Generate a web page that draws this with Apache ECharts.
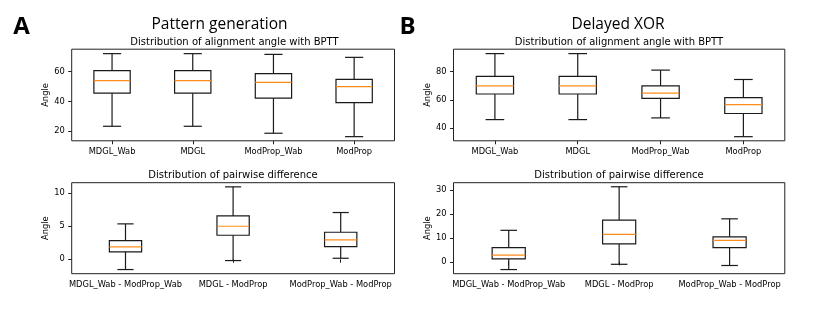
<!DOCTYPE html>
<html>
<head>
<meta charset="utf-8">
<script src="https://cdn.jsdelivr.net/npm/echarts@6/dist/echarts.min.js"></script>
<style>
html,body{margin:0;padding:0;background:#fff;}
#chart{width:823px;height:316px;}
</style>
</head>
<body>
<div id="chart"></div>
<script>
// ---- Data ----
const angleCategories = ['MDGL_Wab', 'MDGL', 'ModProp_Wab', 'ModProp'];
const diffCategories = ['MDGL_Wab - ModProp_Wab', 'MDGL - ModProp', 'ModProp_Wab - ModProp'];

// Pattern generation: alignment angle
const patAngleLow  = [23.2, 23.2, 18.5, 16.2];
const patAngleQ1   = [45.5, 45.5, 42.2, 39.1];
const patAngleMed  = [54.0, 54.0, 52.8, 49.9];
const patAngleQ3   = [60.7, 60.7, 58.7, 54.8];
const patAngleHigh = [72.2, 72.2, 71.7, 69.7];

// Delayed XOR: alignment angle
const xorAngleLow  = [46.1, 46.1, 47.3, 34.1];
const xorAngleQ1   = [64.1, 64.1, 61.0, 50.4];
const xorAngleMed  = [69.8, 69.8, 64.7, 56.7];
const xorAngleQ3   = [76.5, 76.5, 69.8, 61.6];
const xorAngleHigh = [92.5, 92.5, 80.9, 74.3];

// Pattern generation: pairwise difference
const patDiffLow  = [-1.56, -0.2, 0.15];
const patDiffQ1   = [1.12, 3.64, 1.92];
const patDiffMed  = [1.88, 5.0, 2.94];
const patDiffQ3   = [2.83, 6.57, 4.09];
const patDiffHigh = [5.36, 10.97, 7.08];

// Delayed XOR: pairwise difference
const xorDiffLow  = [-3.2, -1.0, -1.5];
const xorDiffQ1   = [1.25, 7.5, 6.0];
const xorDiffMed  = [2.8, 11.5, 9.0];
const xorDiffQ3   = [6.0, 17.5, 10.5];
const xorDiffHigh = [13.2, 31.4, 18.0];

// Tick labels
const patAngleTicks = [20, 40, 60];
const xorAngleTicks = [40, 60, 80];
const patDiffTicks = [0, 5, 10];
const xorDiffTicks = [0, 10, 20, 30];

// ---- Chart ----
const chart = echarts.init(document.getElementById('chart'), null, {renderer: 'canvas'});

function build(cats, low, q1, med, q3, high) {
  return cats.map((c, i) => [i, low[i], q1[i], med[i], q3[i], high[i]]);
}

function makeRender(frac) {
  return function (params, api) {
    const x = api.value(0);
    const pLow = api.coord([x, api.value(1)]);
    const pQ1 = api.coord([x, api.value(2)]);
    const pMed = api.coord([x, api.value(3)]);
    const pQ3 = api.coord([x, api.value(4)]);
    const pHigh = api.coord([x, api.value(5)]);
    const band = api.size([1, 0])[0];
    const bw = band * frac;
    const cx = pMed[0];
    const stroke = {stroke: '#1a1a1a', lineWidth: 1.2, fill: null};
    return {
      type: 'group',
      children: [
        {type: 'line', shape: {x1: cx, y1: pQ3[1], x2: cx, y2: pHigh[1]}, style: stroke},
        {type: 'line', shape: {x1: cx, y1: pQ1[1], x2: cx, y2: pLow[1]}, style: stroke},
        {type: 'line', shape: {x1: cx - bw / 4, y1: pHigh[1], x2: cx + bw / 4, y2: pHigh[1]}, style: stroke},
        {type: 'line', shape: {x1: cx - bw / 4, y1: pLow[1], x2: cx + bw / 4, y2: pLow[1]}, style: stroke},
        {type: 'rect', shape: {x: cx - bw / 2, y: pQ3[1], width: bw, height: pQ1[1] - pQ3[1]},
          style: {stroke: '#1a1a1a', lineWidth: 1.2, fill: 'rgba(0,0,0,0)'}},
        {type: 'line', shape: {x1: cx - bw / 2, y1: pMed[1], x2: cx + bw / 2, y2: pMed[1]},
          style: {stroke: '#ff8c1a', lineWidth: 1.2}}
      ]
    };
  };
}

const tickFont = {fontFamily: 'DejaVu Sans', fontSize: 8.3, color: '#000'};

function xAxis(idx, cats) {
  return {
    type: 'category', gridIndex: idx, data: cats, boundaryGap: true,
    axisLine: {show: false},
    axisTick: {show: true, alignWithLabel: true, length: 3.5, inside: false, lineStyle: {color: '#222', width: 1}},
    axisLabel: Object.assign({margin: 7, interval: 0}, tickFont),
    splitLine: {show: false}
  };
}
function yAxis(idx, min, max, ticks) {
  return {
    type: 'value', gridIndex: idx, min: min, max: max,
    name: 'Angle', nameLocation: 'middle', nameGap: 17.5, nameRotate: 90,
    nameTextStyle: {fontFamily: 'DejaVu Sans', fontSize: 8.3, color: '#000'},
    axisLine: {show: false},
    axisTick: {show: true, length: 3.5, customValues: ticks, lineStyle: {color: '#222', width: 1}},
    axisLabel: Object.assign({margin: 7, customValues: ticks}, tickFont),
    splitLine: {show: false}
  };
}

function gridDef(left, top, width, height) {
  return {left: left, top: top, width: width, height: height, show: true,
    borderColor: '#222', borderWidth: 1, backgroundColor: 'transparent'};
}

function txt(text, x, y, font, weight) {
  return {type: 'text', x: x, y: y, style: {text: text, font: (weight || 'normal') + ' ' + font,
    fill: '#000', textAlign: 'center', textVerticalAlign: 'middle'}};
}

const option = {
  animation: false,
  backgroundColor: '#fff',
  grid: [
    gridDef(71.7, 49.2, 322.8, 91.6),
    gridDef(453.5, 49.2, 331.3, 91.6),
    gridDef(71.7, 182.7, 322.8, 91),
    gridDef(453.5, 182.7, 331.3, 91)
  ],
  xAxis: [
    xAxis(0, angleCategories),
    xAxis(1, angleCategories),
    xAxis(2, diffCategories),
    xAxis(3, diffCategories)
  ],
  yAxis: [
    yAxis(0, 13.4, 75.2, patAngleTicks),
    yAxis(1, 31.2, 95.6, xorAngleTicks),
    yAxis(2, -2.19, 11.6, patDiffTicks),
    yAxis(3, -4.93, 33.1, xorDiffTicks)
  ],
  series: [
    {type: 'custom', xAxisIndex: 0, yAxisIndex: 0, renderItem: makeRender(0.45),
      encode: {x: 0, y: [1, 2, 3, 4, 5]},
      data: build(angleCategories, patAngleLow, patAngleQ1, patAngleMed, patAngleQ3, patAngleHigh)},
    {type: 'custom', xAxisIndex: 1, yAxisIndex: 1, renderItem: makeRender(0.45),
      encode: {x: 0, y: [1, 2, 3, 4, 5]},
      data: build(angleCategories, xorAngleLow, xorAngleQ1, xorAngleMed, xorAngleQ3, xorAngleHigh)},
    {type: 'custom', xAxisIndex: 2, yAxisIndex: 2, renderItem: makeRender(0.3),
      encode: {x: 0, y: [1, 2, 3, 4, 5]},
      data: build(diffCategories, patDiffLow, patDiffQ1, patDiffMed, patDiffQ3, patDiffHigh)},
    {type: 'custom', xAxisIndex: 3, yAxisIndex: 3, renderItem: makeRender(0.3),
      encode: {x: 0, y: [1, 2, 3, 4, 5]},
      data: build(diffCategories, xorDiffLow, xorDiffQ1, xorDiffMed, xorDiffQ3, xorDiffHigh)}
  ],
  graphic: [
    txt('A', 21.5, 27.5, '24px "Open Sans"', 'bold'),
    txt('B', 407.5, 27.5, '24px "Open Sans"', 'bold'),
    txt('Pattern generation', 219.5, 24.5, '15.5px "Open Sans"'),
    txt('Delayed XOR', 618, 24.5, '15.5px "Open Sans"'),
    txt('Distribution of alignment angle with BPTT', 234.5, 42.3, '10px "DejaVu Sans"'),
    txt('Distribution of alignment angle with BPTT', 619, 42.3, '10px "DejaVu Sans"'),
    txt('Distribution of pairwise difference', 233, 175, '10px "DejaVu Sans"'),
    txt('Distribution of pairwise difference', 619, 175, '10px "DejaVu Sans"')
  ]
};
chart.setOption(option);
</script>
</body>
</html>
